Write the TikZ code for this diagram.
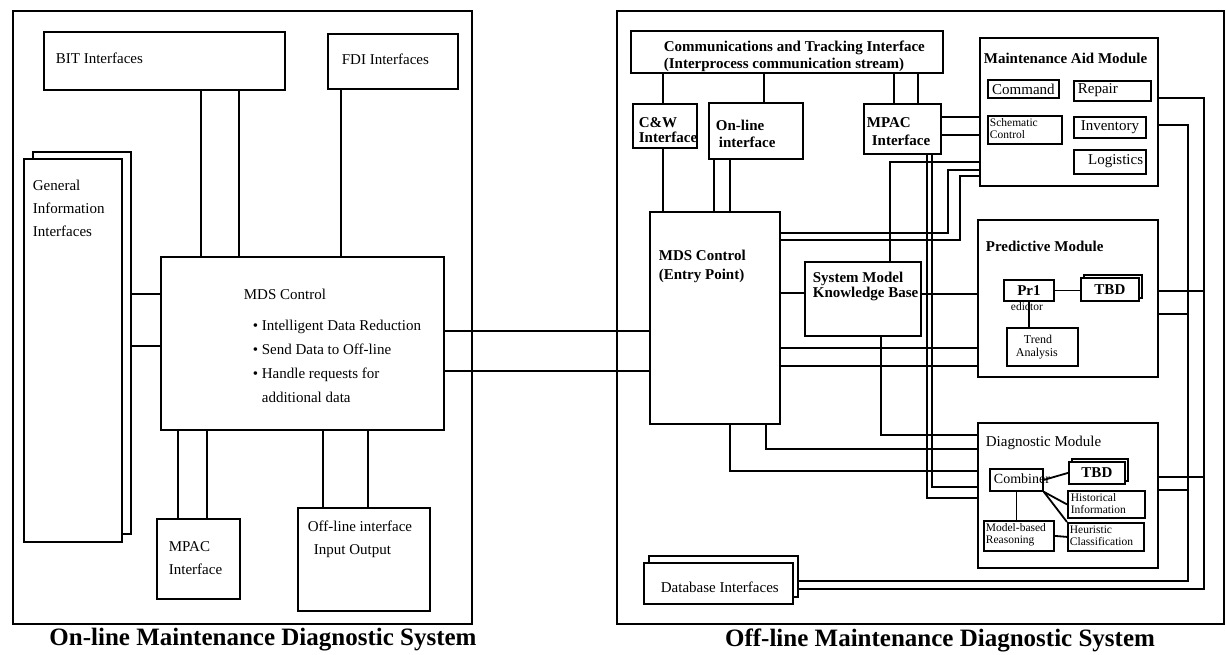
\documentclass[tikz,border=0pt]{standalone}
\usepackage{fontspec}
\setmainfont{Liberation Serif}

\begin{document}
\begin{tikzpicture}[x=1pt, y=-1pt, line width=1.8pt,
    wh/.style 2 args={minimum width=#1, minimum height=#2},
    box/.style={draw, fill=white, inner sep=0pt, anchor=north west,
      font=\fontsize{15}{17}\selectfont},
    txt/.style={inner sep=0pt, anchor=west, align=left,
      font=\fontsize{15}{23}\selectfont},
    btxt/.style={inner sep=0pt, anchor=west, align=left,
      font=\fontsize{15}{17}\selectfont\bfseries},
    stxt/.style={inner sep=0pt, anchor=west, align=left,
      font=\fontsize{11.5}{12}\selectfont},
    caption/.style={inner sep=0pt, font=\fontsize{25}{30}\selectfont\bfseries}]
  \useasboundingbox (0,0) rectangle (1226,654);

  % the two systems
  \node[box, wh={459}{613}] (online) at (12,10) {};
  \node[box, wh={607}{613}] (offline) at (616,10) {};

  % on-line side
  \node[box, wh={241}{58}] (bit) at (43,31) {};
  \node[txt] (bitT) at (55,58) {BIT Interfaces};
  \node[box, wh={130}{55}] (fdi) at (327,33) {};
  \node[txt] (fdiT) at (341,59) {FDI Interfaces};
  \node[box, wh={98}{382}] (geniB) at (32,151) {};
  \node[box, wh={98}{383}] (geni) at (23,158) {};
  \node[txt] (geniT) at (32,208) {General\\Information\\Interfaces};
  \node[box, wh={283}{173}] (mdsL) at (160,256) {};
  \node[txt] (mdsLT) at (243,294) {MDS Control};
  \node[txt, font=\fontsize{15}{24}\selectfont] (mdsLB) at (252,361)
    {\textbullet\ Intelligent Data Reduction\\
     \textbullet\ Send Data to Off-line\\
     \textbullet\ Handle requests for\\
     \hphantom{\textbullet\ }additional data};
  \node[box, wh={83}{80}] (mpacL) at (156,518) {};
  \node[txt] (mpacLT) at (168,558) {MPAC\\Interface};
  \node[box, wh={132}{103}] (offL) at (297,507) {};
  \node[txt] (offLT) at (307,539) {Off-line interface\\\hspace{6pt}Input Output};

  \foreach \x in {201,239} \draw (bit.south -| \x,0) -- (mdsL.north -| \x,0);
  \draw (fdi.south -| 341,0) -- (mdsL.north -| 341,0);
  \foreach \y in {294,346} \draw (geniB.east |- 0,\y) -- (mdsL.west |- 0,\y);
  \foreach \x in {178,207} \draw (mdsL.south -| \x,0) -- (mpacL.north -| \x,0);
  \foreach \x in {323,368} \draw (mdsL.south -| \x,0) -- (offL.north -| \x,0);

  % off-line side
  \node[box, wh={312}{42}] (ct) at (630,30) {};
  \node[btxt] (ctT) at (663,56)
    {Communications and Tracking Interface\\(Interprocess communication stream)};
  \node[box, wh={64}{44}] (cw) at (632,103) {};
  \node[btxt, font=\fontsize{15}{15}\selectfont\bfseries] (cwT) at (638,130) {C\&W\\Interface};
  \node[box, wh={94}{56}] (onl) at (708,102) {};
  \node[btxt] (onlT) at (715,134) {On-line\\\hspace{3pt}interface};
  \node[box, wh={77}{50}] (mpacR) at (863,103) {};
  \node[btxt, font=\fontsize{15}{18}\selectfont\bfseries] (mpacRT) at (866,132)
    {MPAC\\\hspace{5pt}Interface};

  \node[box, wh={178}{148}] (mam) at (979,37) {};
  \node[btxt] (mamT) at (983,58) {Maintenance Aid Module};
  \node[box, wh={71}{18}] (cmd) at (987,79) {Command};
  \node[box, wh={77}{20}] (rep) at (1073,80) {};
  \node[txt] (repT) at (1077,90) {Repair};
  \node[box, wh={74}{28}] (sch) at (987,115) {};
  \node[stxt] (schT) at (989,129) {Schematic\\Control};
  \node[box, wh={72}{21}] (inv) at (1073,116) {Inventory};
  \node[box, wh={72}{24}] (log) at (1073,149) {};
  \node[txt, anchor=east] (logT) at (1144,161) {Logistics};

  \node[box, wh={130}{212}] (mdsR) at (649,211) {};
  \node[btxt, font=\fontsize{15}{19}\selectfont\bfseries] (mdsRT) at (658,266)
    {MDS Control\\(Entry Point)};
  \node[box, wh={116}{74}] (smkb) at (804,261) {};
  \node[btxt, font=\fontsize{15}{15}\selectfont\bfseries] (smkbT) at (812,286)
    {System Model\\Knowledge Base};

  \node[box, wh={180}{157}] (pm) at (977,219) {};
  \node[btxt] (pmT) at (985,246) {Predictive Module};
  \node[box, wh={50}{21}] (pr1) at (1003,279) {\bfseries Pr1};
  \node[stxt] (pr1T) at (1010,307) {edictor};
  \node[box, wh={58}{23}] (tbdPB) at (1083,274) {};
  \node[box, wh={58}{23}] (tbdP) at (1080,277) {\bfseries TBD};
  \node[box, wh={71}{38}] (trend) at (1006,327) {};
  \node[stxt, font=\fontsize{12}{13}\selectfont] (trendT) at (1015,347) {\hspace{8pt}Trend\\Analysis};

  \node[box, wh={180}{145}] (dm) at (977,422) {};
  \node[txt] (dmT) at (985,443) {Diagnostic Module};
  \node[box, wh={53}{22}] (comb) at (989,468) {};
  \node[txt, font=\fontsize{14}{16}\selectfont] (combT) at (993,479) {Combiner};
  \node[box, wh={56}{22}] (tbdDB) at (1071,458) {};
  \node[box, wh={56}{22}] (tbdD) at (1068,461) {\bfseries TBD};
  \node[box, wh={77}{27}] (hist) at (1067,490) {};
  \node[stxt] (histT) at (1070,504) {Historical\\Information};
  \node[box, wh={76}{28}] (heur) at (1067,522) {};
  \node[stxt] (heurT) at (1069,536) {Heuristic\\Classification};
  \node[box, wh={70}{30}] (mbr) at (983,520) {};
  \node[stxt] (mbrT) at (985,535) {Model-based\\Reasoning};

  \node[box, wh={149}{41}] (dbB) at (648,555) {};
  \node[box, wh={149}{41}] (db) at (643,562) {};
  \node[txt] (dbT) at (660,587) {Database Interfaces};

  \coordinate (busO) at (1204,589);
  \coordinate (busI) at (1188,581);

  \draw (ct.south -| 663,0) -- (cw.north -| 663,0);
  \draw (cw.south -| 663,0) -- (mdsR.north -| 663,0);
  \draw (ct.south -| 764,0) -- (onl.north -| 764,0);
  \foreach \x in {714,730} \draw (onl.south -| \x,0) -- (mdsR.north -| \x,0);
  \foreach \x in {894,918} \draw (ct.south -| \x,0) -- (mpacR.north -| \x,0);
  \foreach \y in {117,135} \draw (mpacR.east |- 0,\y) -- (mam.west |- 0,\y);
  \draw (mdsR.east |- 0,293) -- (smkb.west |- 0,293);
  \draw (smkb.north -| 890,0) |- (mam.west |- 0,162);
  \draw (mdsR.east |- 0,233) -| (948,170) -- (mam.west |- 0,170);
  \draw (mdsR.east |- 0,240) -| (960,176) -- (mam.west |- 0,176);
  \draw (smkb.east |- 0,294) -- (pm.west |- 0,294);
  \foreach \y in {348,366} \draw (mdsR.east |- 0,\y) -- (pm.west |- 0,\y);
  \draw (smkb.south -| 881,0) |- (dm.west |- 0,435);
  \draw (mdsR.south -| 766,0) |- (dm.west |- 0,449);
  \draw (mdsR.south -| 730,0) |- (dm.west |- 0,471);
  \draw (mpacR.south -| 932,0) |- (dm.west |- 0,487);
  \draw (mpacR.south -| 927,0) |- (dm.west |- 0,498);
  \draw (mam.east |- 0,98) -| (busO) -- (dbB.east |- busO);
  \draw (mam.east |- 0,125) -| (busI) -- (dbB.east |- busI);
  \draw (pm.east |- 0,291) -- (busO |- 0,291);
  \draw (pm.east |- 0,314) -- (busI |- 0,314);
  \draw (dm.east |- 0,477) -- (busO |- 0,477);
  \draw (dm.east |- 0,490) -- (busI |- 0,490);
  \draw (pr1.east) -- (tbdP.west |- pr1.east);
  \draw (pr1.south) -- (trend.north -| pr1.south);
  \draw (comb.east) -- (tbdD.west);
  \draw (comb.south east) -- (hist.west);
  \draw (comb.south east) -- (heur.north west);
  \draw (comb.south) -- (mbr.north -| comb.south);
  \draw (mbr.east) -- (heur.west);

  % link between the two systems
  \foreach \y in {331,371} \draw (mdsL.east |- 0,\y) -- (mdsR.west |- 0,\y);

  \node[caption] (onCap) at (263,640) {On-line Maintenance Diagnostic System};
  \node[caption] (offCap) at (940,640) {Off-line Maintenance Diagnostic System};
\end{tikzpicture}
\end{document}
